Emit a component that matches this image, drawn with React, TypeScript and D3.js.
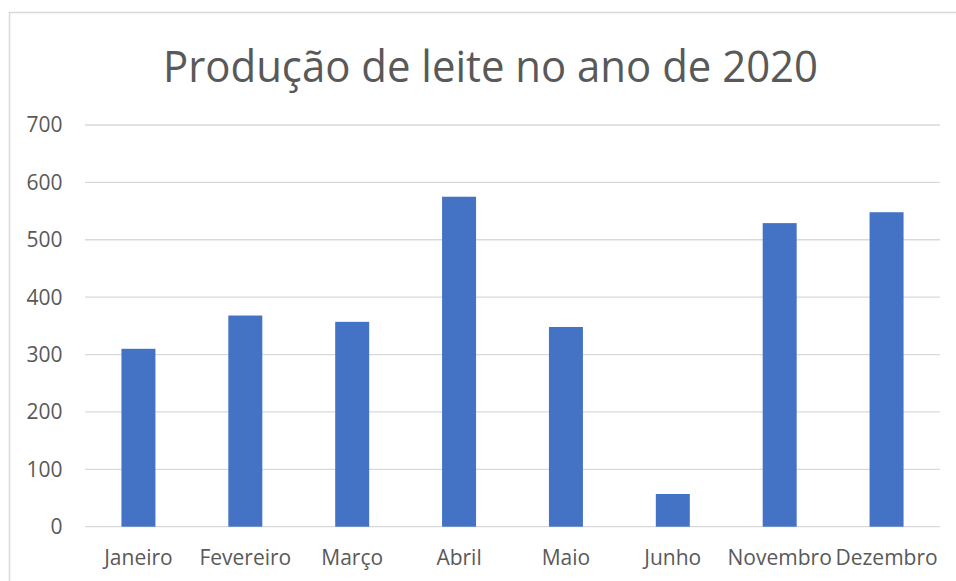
import React from 'react';
import * as d3 from 'd3';

const months = ['Janeiro', 'Fevereiro', 'Março', 'Abril', 'Maio', 'Junho', 'Novembro', 'Dezembro'];
const production = [310, 368, 357, 575, 348, 57, 529, 548];
const yTicks = [0, 100, 200, 300, 400, 500, 600, 700];
const title = 'Produção de leite no ano de 2020';

const W = 956;
const H = 581;
const FONT = "'Open Sans', 'Noto Sans', sans-serif";
const TEXT = '#595959';

const App: React.FC = () => {
  const plot = { left: 85, right: 940, top: 125, bottom: 526.7 };

  const x = d3.scaleBand<string>().domain(months).range([plot.left, plot.right]).padding(0);
  const y = d3.scaleLinear().domain([0, 700]).range([plot.bottom, plot.top]);
  const barW = x.step() * 0.318;

  return (
    <svg
      width={W}
      height={H}
      style={{ position: 'absolute', left: 0, top: 0, background: '#fff' }}
      fontFamily={FONT}
    >
      {/* chart frame, cut off on the right and bottom */}
      <rect x={9.5} y={12.5} width={980} height={620} fill="#fff" stroke="#d9d9d9" strokeWidth={1.5} />

      <text
        x={490.5}
        y={82}
        textAnchor="middle"
        fontSize={44}
        fill={TEXT}
        textLength={655}
        lengthAdjust="spacingAndGlyphs"
      >
        {title}
      </text>

      {/* gridlines + y labels */}
      {yTicks.map((t) => (
        <g key={t}>
          <line x1={plot.left} x2={plot.right} y1={y(t)} y2={y(t)} stroke="#d9d9d9" strokeWidth={1.3} />
          <text x={62.5} y={y(t)} dy="0.35em" textAnchor="end" fontSize={21} fill={TEXT}>
            {t}
          </text>
        </g>
      ))}

      {/* bars */}
      {months.map((m, i) => {
        const cx = (x(m) as number) + x.bandwidth() / 2;
        return (
          <rect
            key={m}
            x={cx - barW / 2}
            y={y(production[i])}
            width={barW}
            height={y(0) - y(production[i])}
            fill="#4472c4"
          />
        );
      })}

      {/* x labels */}
      {months.map((m) => (
        <text
          key={m}
          x={(x(m) as number) + x.bandwidth() / 2}
          y={565}
          textAnchor="middle"
          fontSize={21}
          fill={TEXT}
        >
          {m}
        </text>
      ))}
    </svg>
  );
};

export default App;
